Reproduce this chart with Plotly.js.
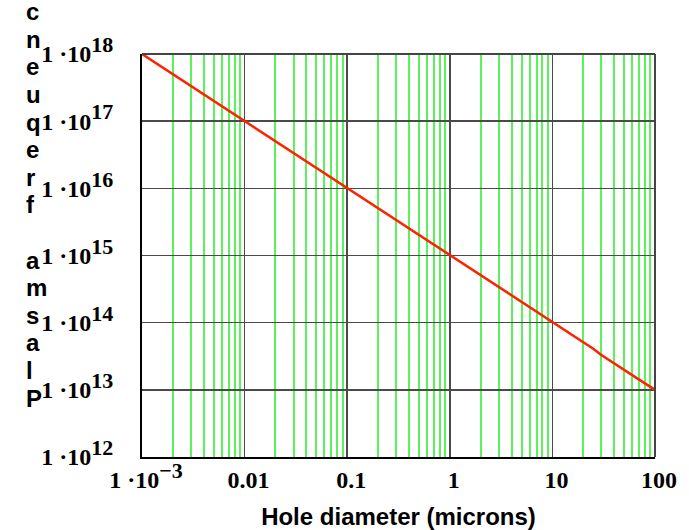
<!DOCTYPE html>
<html>
<head>
<meta charset="utf-8">
<script src="https://cdn.plot.ly/plotly-3.0.1.min.js"></script>
<style>html,body{margin:0;padding:0;background:#fff;}#chart{width:689px;height:530px;}</style>
</head>
<body>
<div id="chart"></div>
<script>
// Data
const holeDiameter = [0.001, 0.002, 0.005, 0.01, 0.02, 0.05, 0.1, 0.2, 0.5, 1, 2, 5, 10, 15, 20, 25, 30, 40, 50, 70, 100];
const plasmaFreq = [1e18, 5e17, 2e17, 1e17, 5e16, 2e16, 1e16, 5e15, 2e15, 1e15, 5e14, 2e14, 1e14, 6.7e13, 5.1e13, 4.1e13, 3.3e13, 2.5e13, 2.0e13, 1.42e13, 1e13];

const xTickVals = [0.001, 0.01, 0.1, 1, 10, 100];
const xTickText = ['1 ·10<sup><span style="font-size:22px">\u22123</span></sup>', '0.01', '0.1', '1', '10', '100'];
const yTickVals = [1e12, 1e13, 1e14, 1e15, 1e16, 1e17, 1e18];
const yExponents = ['12', '13', '14', '15', '16', '17', '18'];

const xTitle = 'Hole diameter (microns)';
const yTitle = 'Plasma frequency';

const yTickText = yExponents.map(e => '1 ·10<sup><span style="font-size:22px">' + e + '</span></sup>');

// minor decade subdivisions for the green grid
const minorTicks = [];
for (let k = -3; k < 2; k++) {
  for (let m = 2; m <= 9; m++) minorTicks.push(m * Math.pow(10, k));
}

const W = 689, H = 530;
const L = 142, R = 655, T = 54, B = 457;

const tickFont = {family: 'Liberation Serif, Times New Roman, serif', size: 24, color: '#000', weight: 'bold'};

// stacked y-axis title letters (bottom-to-top)
const letters = yTitle.split('');
const step = 27.6;
const annotations = letters.map((ch, i) => ({
  text: ch === ' ' ? '' : ch,
  xref: 'paper', yref: 'paper',
  x: (24 - L) / (R - L),
  y: (B - (398 - i * step)) / (B - T),
  xanchor: 'left', yanchor: 'middle',
  showarrow: false,
  font: {family: 'Liberation Sans, Arial, sans-serif', size: 24, color: '#000', weight: 'bold'}
}));

const trace = {
  x: holeDiameter, y: plasmaFreq,
  type: 'scatter', mode: 'lines',
  line: {color: '#ff2200', width: 2.5},
  hoverinfo: 'skip'
};

const layout = {
  width: W, height: H,
  margin: {l: L, r: W - R, t: T, b: H - B},
  paper_bgcolor: '#fff', plot_bgcolor: '#fff',
  showlegend: false,
  xaxis: {
    type: 'log', range: [-3, 2],
    tickmode: 'array', tickvals: xTickVals, ticktext: xTickText,
    tickfont: tickFont, ticks: '', ticklabelshift: 4,
    showgrid: true, gridcolor: '#4a4a4a', gridwidth: 1.5,
    minor: {tickmode: 'array', tickvals: minorTicks, showgrid: true, gridcolor: '#5cf25c', gridwidth: 2, ticks: ''},
    showline: true, linecolor: '#000', linewidth: 2,
    zeroline: false,
    title: {text: xTitle, font: {family: 'Liberation Sans, Arial, sans-serif', size: 24, color: '#000', weight: 'bold'}, standoff: 18}
  },
  yaxis: {
    type: 'log', range: [12, 18],
    tickmode: 'array', tickvals: yTickVals, ticktext: yTickText,
    tickfont: tickFont, ticks: '', ticklabelstandoff: 22,
    showgrid: true, gridcolor: '#4a4a4a', gridwidth: 1.5,
    showline: true, linecolor: '#000', linewidth: 2,
    zeroline: false
  },
  shapes: [
    {type: 'line', xref: 'paper', yref: 'paper', x0: 0, x1: 1, y0: 1, y1: 1, line: {color: '#444', width: 2}},
    {type: 'line', xref: 'paper', yref: 'paper', x0: 1, x1: 1, y0: 0, y1: 1, line: {color: '#444', width: 2}}
  ],
  annotations: annotations
};

Plotly.newPlot('chart', [trace], layout, {staticPlot: true, displayModeBar: false});
</script>
</body>
</html>
